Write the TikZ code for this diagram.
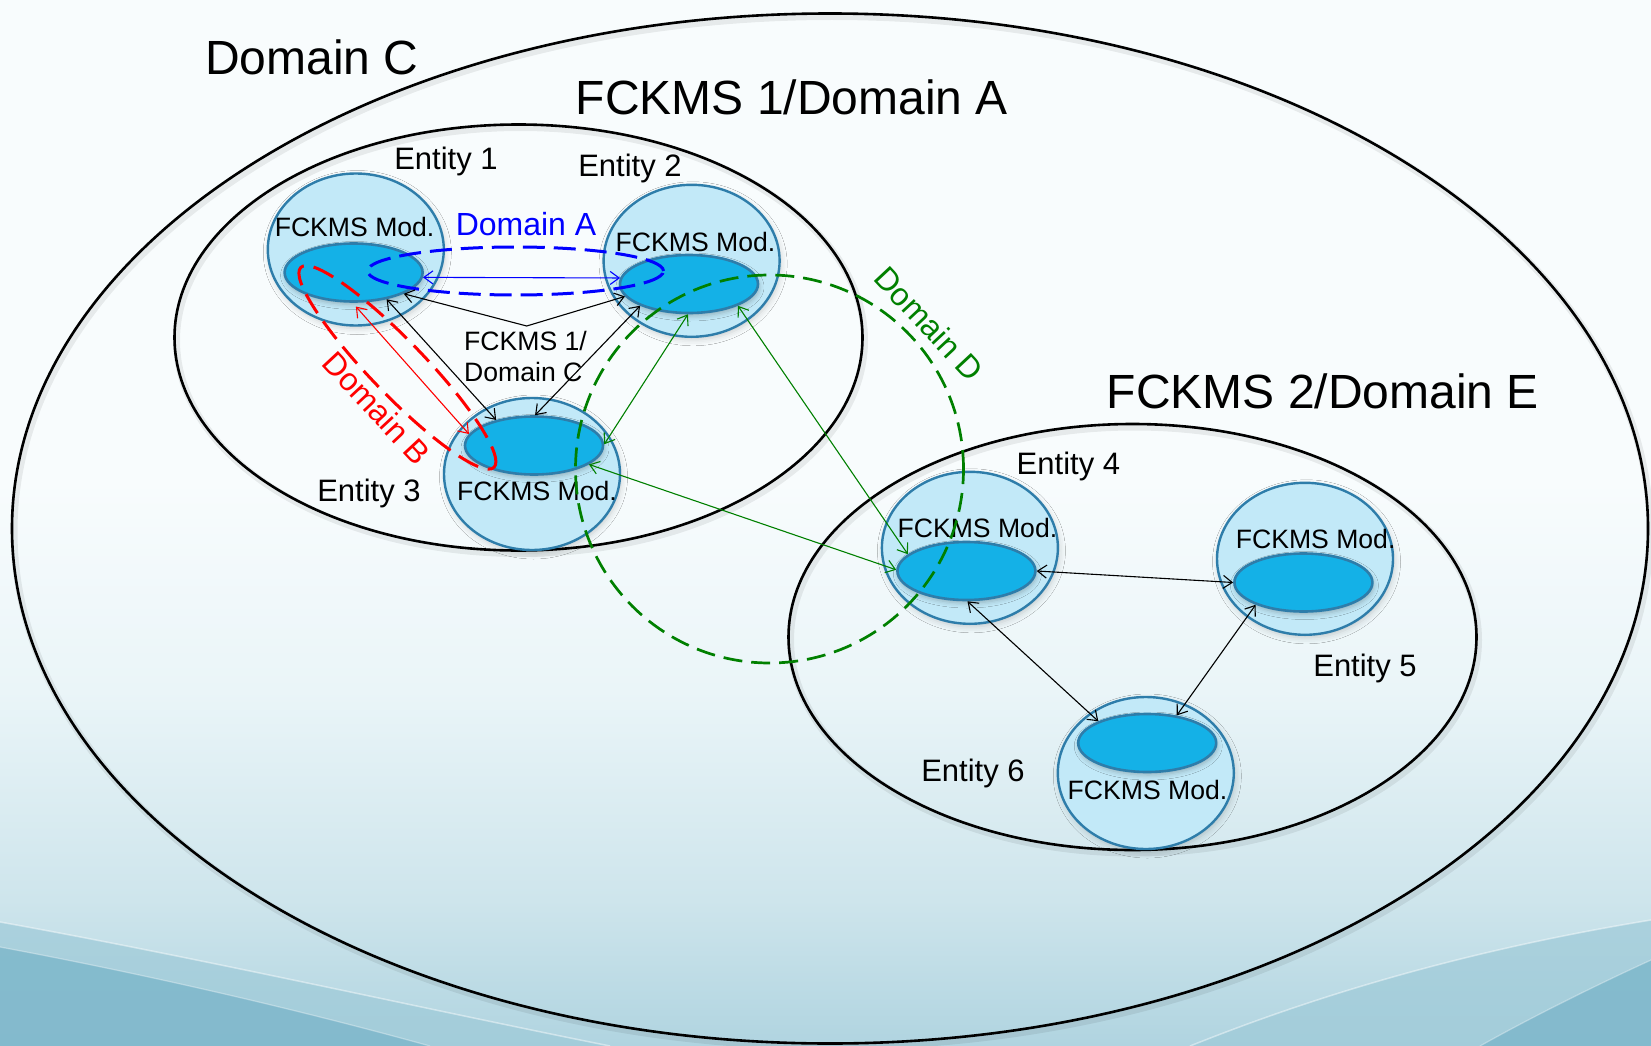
\documentclass[tikz,border=0pt]{standalone}
\usepackage{fontspec}
\setmainfont{Liberation Sans}
\usetikzlibrary{arrows.meta,shapes.geometric,shadows.blur}

\definecolor{bgtop}{RGB}{248,252,253}
\definecolor{bgmid}{RGB}{234,245,248}
\definecolor{bglow}{RGB}{206,229,236}
\definecolor{bgbot}{RGB}{176,212,224}
\definecolor{bgmedium}{RGB}{158,202,216}
\definecolor{bgdeep}{RGB}{124,182,202}
\definecolor{entfill}{RGB}{194,233,248}
\definecolor{entline}{RGB}{46,125,170}
\definecolor{modfill}{RGB}{20,177,231}
\definecolor{domgreen}{RGB}{0,128,0}

% soft backdrop: white at the top, pale teal at the bottom
\pgfdeclareverticalshading{backdrop}{100bp}{
  color(0bp)=(bgbot); color(25bp)=(bgbot); color(32bp)=(bglow);
  color(42bp)=(bgmid); color(52bp)=(bgtop); color(100bp)=(bgtop)}

\begin{document}
\begin{tikzpicture}[x=1pt,y=-1pt,
  ring/.style={draw=black,line width=2.6pt},
  ringshadow/.style={draw=black,line width=7pt,opacity=0.07,xshift=2pt,yshift=-3pt},
  entity/.style={ellipse,minimum width=176pt,minimum height=152pt,inner sep=0pt,
    fill=entfill,draw=entline,line width=2.4pt,
    blur shadow={shadow xshift=1.5pt,shadow yshift=-3pt,shadow blur radius=6pt,shadow opacity=18}},
  module/.style={ellipse,minimum width=138pt,minimum height=58pt,inner sep=0pt,
    fill=modfill,draw=entline,line width=2.6pt,
    blur shadow={shadow xshift=1pt,shadow yshift=-3pt,shadow blur radius=5pt,shadow opacity=25}},
  modtext/.style={anchor=base,inner sep=0pt,font=\fontsize{26.6}{31}\selectfont},
  enttext/.style={anchor=base,inner sep=0pt,font=\fontsize{31}{37}\selectfont},
  bigtext/.style={anchor=base,inner sep=0pt,font=\fontsize{48}{57}\selectfont},
  domtext/.style={inner sep=0pt,font=\fontsize{32}{38}\selectfont},
  link/.style={line width=1.1pt,
    {Straight Barb[length=9pt,width=13pt]}-{Straight Barb[length=9pt,width=13pt]}},
  domA/.style={draw=blue,line width=3pt,dash pattern=on 22pt off 9pt},
  domB/.style={draw=red,line width=3pt,dash pattern=on 22pt off 10pt},
  domD/.style={draw=domgreen,line width=2.7pt,dash pattern=on 19pt off 9pt},
]
\useasboundingbox (0,0) rectangle (1651,1046);

% backdrop with the darker swoops in the lower corners
\shade[shading=backdrop] (0,0) rectangle (1651,1046);
\fill[bgmedium,opacity=.7] (0,922) .. controls (200,958) and (420,1008) .. (610,1046) -- (0,1046) -- cycle;
\fill[bgdeep,opacity=.8] (0,947) .. controls (150,975) and (300,1010) .. (430,1046) -- (0,1046) -- cycle;
\draw[white,opacity=.45,line width=1.5pt] (0,922) .. controls (200,958) and (420,1008) .. (610,1046);
\draw[white,opacity=.35,line width=1.2pt] (0,947) .. controls (150,975) and (300,1010) .. (430,1046);
\fill[bgmedium,opacity=.7] (1651,920) .. controls (1480,948) and (1330,990) .. (1190,1046) -- (1651,1046) -- cycle;
\fill[bgdeep,opacity=.8] (1651,960) .. controls (1590,988) and (1530,1018) .. (1480,1046) -- (1651,1046) -- cycle;
\draw[white,opacity=.45,line width=1.5pt] (1651,920) .. controls (1480,948) and (1330,990) .. (1190,1046);
\draw[white,opacity=.35,line width=1.2pt] (1651,960) .. controls (1590,988) and (1530,1018) .. (1480,1046);

% Domain C and the two FCKMS domains
\draw[ringshadow] (830,528.5) ellipse [x radius=818pt, y radius=515pt];
\draw[ring] (830,528.5) ellipse [x radius=818pt, y radius=515pt];
\draw[ringshadow] (518.5,337.5) ellipse [x radius=344pt, y radius=213pt];
\draw[ring] (518.5,337.5) ellipse [x radius=344pt, y radius=213pt];
\draw[ringshadow] (1132.5,637) ellipse [x radius=344pt, y radius=213pt];
\draw[ring] (1132.5,637) ellipse [x radius=344pt, y radius=213pt];

\node[bigtext] (tC) at (312,75) {Domain C};
\node[bigtext] (tF1) at (792,115) {FCKMS 1/Domain A};
\node[bigtext] (tF2) at (1323,408.5) {FCKMS 2/Domain E};

% entities
\node[entity] (e1) at (355.8,249.5) {};
\node[entity] (e2) at (691.6,260.8) {};
\node[entity] (e3) at (532,474) {};
\node[entity] (e4) at (969.9,547.8) {};
\node[entity] (e5) at (1305,558.8) {};
\node[entity] (e6) at (1145.8,773) {};

% FCKMS modules
\node[module] (m1) at (353.6,272.5) {};
\node[module] (m2) at (689,284) {};
\node[module] (m3) at (534,445.5) {};
\node[module] (m4) at (966.4,571) {};
\node[module] (m5) at (1303.4,582.5) {};
\node[module] (m6) at (1147.2,743) {};

\node[modtext] (k1) at (354.6,236.7) {FCKMS Mod.};
\node[modtext] (k2) at (695.5,251) {FCKMS Mod.};
\node[modtext] (k3) at (537,500) {FCKMS Mod.};
\node[modtext] (k4) at (977.4,537.3) {FCKMS Mod.};
\node[modtext] (k5) at (1315.6,548.3) {FCKMS Mod.};
\node[modtext] (k6) at (1147.5,799.3) {FCKMS Mod.};

\node[enttext] (n1) at (446,169.3) {Entity 1};
\node[enttext] (n2) at (630,176) {Entity 2};
\node[enttext] (n3) at (369,501.7) {Entity 3};
\node[enttext] (n4) at (1068.4,474) {Entity 4};
\node[enttext] (n5) at (1365,676) {Entity 5};
\node[enttext] (n6) at (973,781) {Entity 6};

\node[anchor=base west,inner sep=0pt,font=\fontsize{26.6}{31}\selectfont] (tFC)
  at (464,350.7) {\vtop{\baselineskip=31pt\hbox{FCKMS 1/}\hbox{Domain C}}};

% sub-domains A, B and D
\draw[domA] (515.5,271) ellipse [x radius=148pt, y radius=24pt];
\draw[domB,rotate around={-46:(397.4,367.4)}] (397.4,367.4) ellipse [x radius=139pt, y radius=27pt];
\draw[domD] (769.5,469) circle [radius=194pt];

% key exchange links
\draw[link,blue] (m1.-4) -- (m2.175);
\coordinate (bend) at (526.7,326);
\draw[link] (m1.-23) -- (bend) -- (m2.191);
\draw[link] (m1.-39) -- (m3.146);
\draw[link] (m2.204) -- (m3.88);
\draw[link,red,shorten <=5pt] (m1.-92) -- (m3.170);
\draw[link,domgreen] (m2.-92) -- (m3.1);
\draw[link,domgreen] (m2.-24) -- (m4.164);
\draw[link,domgreen] (m3.-19) -- (m4.179);
\draw[link] (m4.0) -- (m5.180);
\draw[link] (m4.-88) -- (m6.156);
\draw[link] (m5.205) -- (m6.43);

\node[domtext,anchor=base,blue] (tA) at (526,235) {Domain A};
\node[domtext,red,rotate=-47] (tB) at (377,408) {Domain B};
\node[domtext,domgreen,rotate=-47] (tD) at (929,323.7) {Domain D};
\end{tikzpicture}
\end{document}
